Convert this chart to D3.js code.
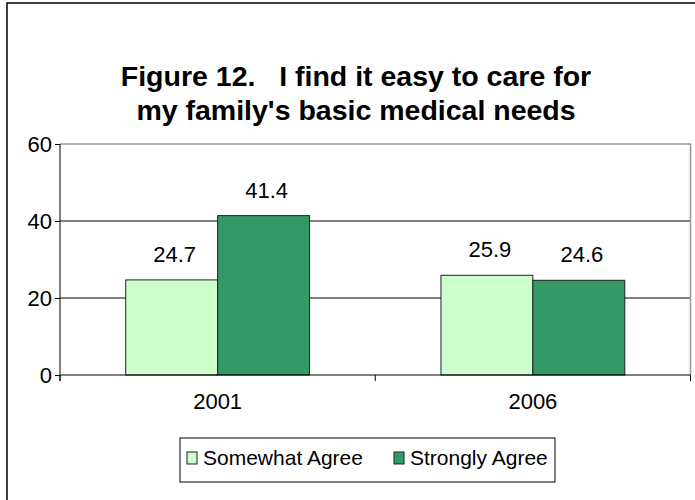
<!DOCTYPE html>
<html><head><meta charset="utf-8">
<script src="https://cdn.jsdelivr.net/npm/d3@7"></script>
<style>
body{margin:0;background:#fff;}
text{font-family:Arial,"Liberation Sans",sans-serif;fill:#000;}
</style></head>
<body><svg id="c" width="695" height="500"></svg>
<script>
const categories = ["2001", "2006"];
const seriesNames = ["Somewhat Agree", "Strongly Agree"];
const somewhatAgree = [24.7, 25.9];
const stronglyAgree = [41.4, 24.6];
const yTicks = [0, 20, 40, 60];
const titleLines = ["Figure 12.   I find it easy to care for", "my family's basic medical needs"];
const colors = ["#CCFFCC", "#339966"];

const svg = d3.select("#c");
const W = 695, H = 500;
// outer border
svg.append("rect").attr("x",7).attr("y",3).attr("width",W+10).attr("height",H+10)
  .attr("fill","#fff").attr("stroke","#000").attr("stroke-width",1.5);

const L = 60, R = 690.5, T = 144, B = 375;
const x0 = d3.scaleBand().domain(categories).range([L, R]).paddingInner(0).paddingOuter(0);
const x1 = d3.scaleBand().domain(seriesNames).range([0, x0.bandwidth()]).paddingInner(0).paddingOuter(0.715);
const y = d3.scaleLinear().domain([0, 60]).range([B, T]);

// title
svg.append("text").attr("text-anchor","middle").attr("font-weight","bold").attr("font-size",28.5)
  .selectAll("tspan").data(titleLines).join("tspan")
  .attr("x",356).attr("y",(d,i)=>86+i*34).attr("xml:space","preserve").style("white-space","pre").text(d=>d);

// gridlines
svg.append("g").selectAll("line").data(yTicks.filter(t=>t>0 && t<60)).join("line")
  .attr("x1",L).attr("x2",R).attr("y1",d=>y(d)).attr("y2",d=>y(d)).attr("stroke","#000").attr("stroke-width",1);
// plot border top/right (gray)
svg.append("path").attr("d",`M${L},${T}H${R}V${B}`).attr("fill","none").attr("stroke","#999").attr("stroke-width",1.5);

// bars
const data = categories.map((c,i)=>({cat:c, vals:[somewhatAgree[i], stronglyAgree[i]]}));
const g = svg.append("g").selectAll("g").data(data).join("g").attr("transform",d=>`translate(${x0(d.cat)},0)`);
g.selectAll("rect").data(d=>d.vals.map((v,j)=>({v,name:seriesNames[j],j}))).join("rect")
  .attr("x",d=>x1(d.name)).attr("width",x1.bandwidth())
  .attr("y",d=>y(d.v)).attr("height",d=>B-y(d.v))
  .attr("fill",d=>colors[d.j]).attr("stroke","#222").attr("stroke-width",1);
g.selectAll("text").data(d=>d.vals.map((v,j)=>({v,name:seriesNames[j],j}))).join("text")
  .attr("x",d=>x1(d.name)+x1.bandwidth()/2+3).attr("y",d=>y(d.v)-18)
  .attr("text-anchor","middle").attr("font-size",22).text(d=>d.v.toFixed(1));

// y axis
const ya = svg.append("g").attr("transform",`translate(${L},0)`)
  .call(d3.axisLeft(y).tickValues(yTicks).tickSize(5).tickPadding(3).tickFormat(d3.format("d")));
ya.select(".domain").attr("d",`M0,${T}V${B+6}`).attr("stroke","#000");
ya.selectAll("text").attr("font-size",22).attr("font-family","Arial,'Liberation Sans',sans-serif").attr("fill","#000");
ya.selectAll("line").attr("stroke","#000");

// x axis
const xa = svg.append("g").attr("transform",`translate(0,${B})`)
  .call(d3.axisBottom(x0).tickSize(0).tickPadding(18));
xa.select(".domain").attr("d",`M${L},0H${R}`).attr("stroke","#000");
xa.selectAll("text").attr("font-size",22).attr("font-family","Arial,'Liberation Sans',sans-serif").attr("fill","#000");
const sepTicks = [L, ...categories.slice(1).map(c=>x0(c)), R];
svg.append("g").selectAll("line").data(sepTicks).join("line")
  .attr("x1",d=>d).attr("x2",d=>d).attr("y1",B).attr("y2",B+6).attr("stroke","#000");

// legend
const lg = svg.append("g");
lg.append("rect").attr("x",180).attr("y",438).attr("width",375).attr("height",44)
  .attr("fill","#fff").attr("stroke","#000").attr("stroke-width",1);
const legX = [187, 394];
const li = lg.selectAll("g").data(seriesNames).join("g").attr("transform",(d,i)=>`translate(${legX[i]},452)`);
li.append("rect").attr("width",10).attr("height",12).attr("fill",(d,i)=>colors[i]).attr("stroke","#222").attr("stroke-width",1);
li.append("text").attr("x",16).attr("y",13).attr("font-size",21).text(d=>d);
</script></body></html>
